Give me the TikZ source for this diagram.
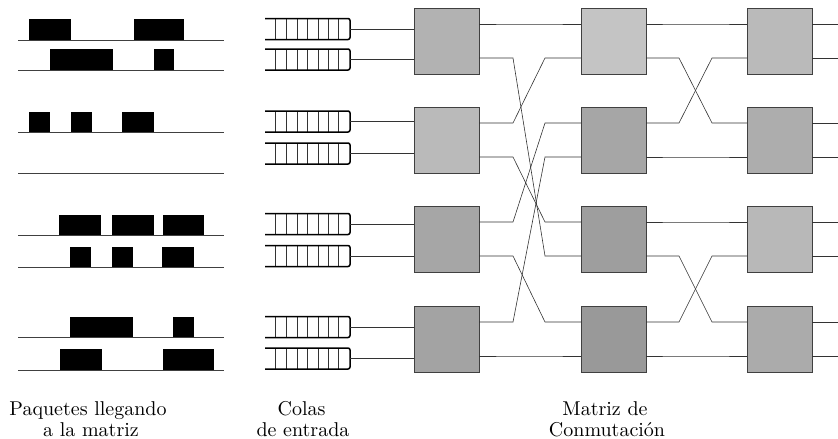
\documentclass[tikz,border=0pt]{standalone}
\usepackage{fontspec}
\setmainfont{lmroman10-regular}[Extension=.otf]
\begin{document}
\begin{tikzpicture}[x=1pt,y=-1pt,
  pkt/.style={fill=black,draw=none},
  track/.style={line width=0.6pt,draw=black!75},
  wire/.style={line width=0.6pt,draw=black!80},
  qframe/.style={line width=1.5pt,draw=black,rounded corners=2pt},
  qcell/.style={line width=0.5pt,draw=black!80},
  sw/.style={draw=black!75,line width=0.8pt,minimum width=65pt,minimum height=66pt,inner sep=0pt,anchor=north west},
  lab/.style={font=\fontsize{20}{22}\selectfont,anchor=base,inner sep=0pt}]
\useasboundingbox (0,0) rectangle (838,439);

% ---- packet tracks ----
\foreach \y in {40,70,132,173,235,267,337,370}
  \draw[track] (18,\y) -- (224,\y);
% packets
\foreach \a/\b/\t/\y in {29/71/19/40,134/184/19/40,
  50/113/49/70,154/174/49/70,
  29/50/112/132,71/92/112/132,122/154/112/132,
  59/101/215/235,112/154/215/235,163/204/215/235,
  70/91/247/267,112/133/247/267,162/194/247/267,
  70/133/317/337,173/194/317/337,
  60/102/349/370,163/214/349/370}
  \fill[pkt] (\a,\t) rectangle (\b,\y);

% ---- input queues ----
\foreach \i/\c in {1/29,2/59.5,3/121.5,4/153.5,5/224,6/256,7/327,8/358.5}{
  \foreach \v in {275,286,297,307,318,328,338}
    \draw[qcell] (\v,{\c-10.5}) -- (\v,{\c+10.5});
  \draw[qframe] (265,{\c-10.5}) -- (350,{\c-10.5}) -- (350,{\c+10.5}) -- (265,{\c+10.5});
  \coordinate (q\i) at (350,\c);
}

% ---- switches ----
\foreach \col/\x in {1/414,2/581,3/747}{
  \foreach \r/\t in {1/8,2/107,3/206,4/306}{
    \coordinate (s\col\r l1) at (\x,{\t+16});
    \coordinate (s\col\r l2) at (\x,{\t+50});
    \coordinate (s\col\r r1) at ({\x+65},{\t+16});
    \coordinate (s\col\r r2) at ({\x+65},{\t+50});
  }
}
\foreach \col/\x/\r/\t/\g in {
  1/414/1/8/30,1/414/2/107/27,1/414/3/206/35,1/414/4/306/36,
  2/581/1/8/23,2/581/2/107/35,2/581/3/206/38,2/581/4/306/40,
  3/747/1/8/27,3/747/2/107/32,3/747/3/206/28,3/747/4/306/33}
  \node[sw,fill=black!\g] (s\col\r) at (\x,\t) {};

% queue to first stage
\foreach \i/\r in {1/1,2/1,3/2,4/2,5/3,6/3,7/4,8/4}
  \draw[wire] (q\i) -- (q\i -| s1\r.west);

% stage 1 -> stage 2
\foreach \ra/\pa/\rb/\pb in {1/1/1/1,1/2/3/2,2/1/1/2,2/2/3/1,3/1/2/1,3/2/4/1,4/1/2/2,4/2/4/2}
  \draw[wire] (s1\ra r\pa) -- ([xshift=34pt]s1\ra r\pa) -- ([xshift=-36pt]s2\rb l\pb) -- (s2\rb l\pb);

% stage 2 -> stage 3
\foreach \ra/\pa/\rb/\pb in {1/1/1/1,1/2/2/1,2/1/1/2,2/2/2/2,3/1/3/1,3/2/4/1,4/1/3/2,4/2/4/2}
  \draw[wire] (s2\ra r\pa) -- ([xshift=33pt]s2\ra r\pa) -- ([xshift=-35pt]s3\rb l\pb) -- (s3\rb l\pb);

% outputs
\foreach \r in {1,2,3,4}{
  \coordinate (o\r a) at (838,0 |- s3\r r1);
  \coordinate (o\r b) at (838,0 |- s3\r r2);
  \draw[wire] (s3\r r1) -- (s3\r r1 -| o\r a);
  \draw[wire] (s3\r r2) -- (s3\r r2 -| o\r b);
}

% ---- labels ----
\node[lab] (l1a) at (88,415.5) {Paquetes llegando};
\node[lab] (l1b) at (91,436.5) {a la matriz};
\node[lab] (l2a) at (301.5,415.5) {Colas};
\node[lab] (l2b) at (303,436.5) {de entrada};
\node[lab] (l3a) at (605,415.5) {Matriz de};
\node[lab] (l3b) at (607,436.5) {Conmutación};
\end{tikzpicture}
\end{document}
